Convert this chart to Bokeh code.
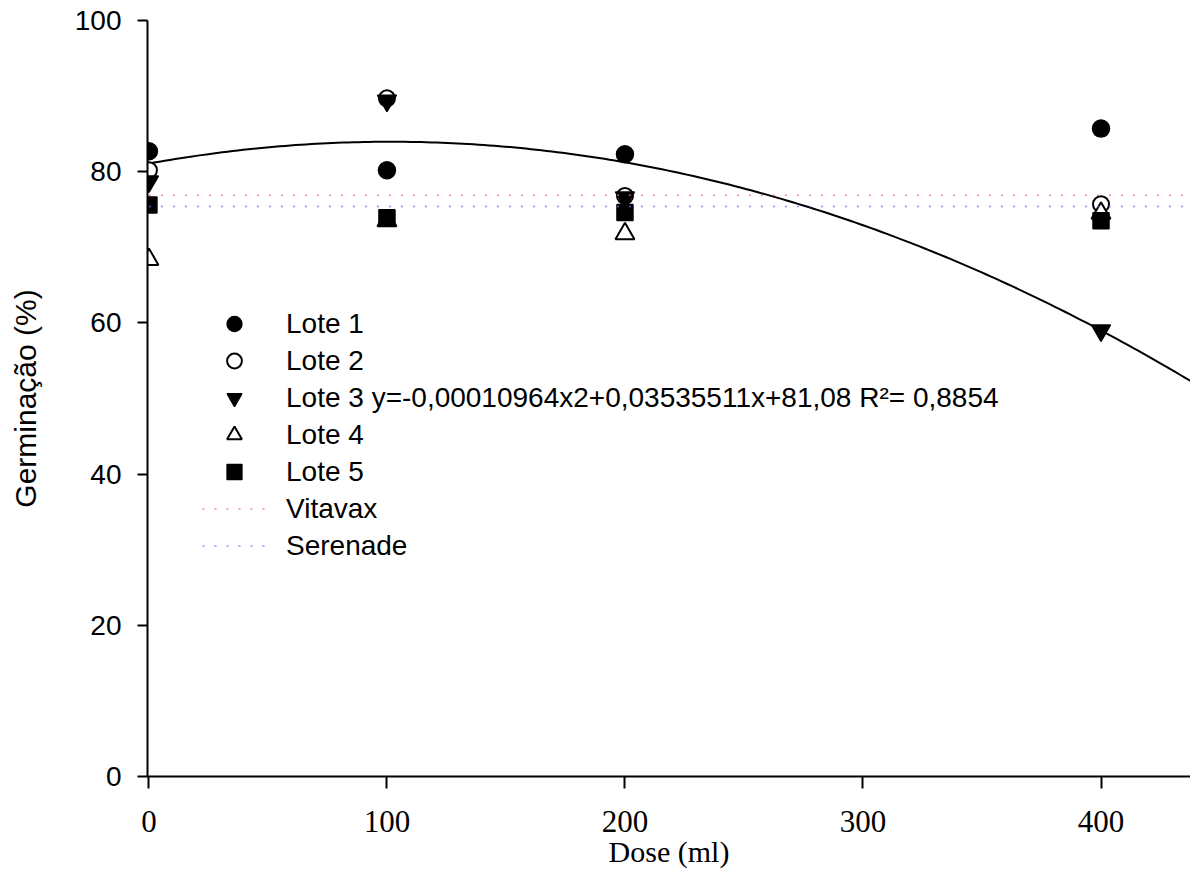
import numpy as np
from bokeh.plotting import figure
from bokeh.models import Legend, LegendItem, FixedTicker
from bokeh.embed import file_html
from bokeh.resources import INLINE

# ---- data ----
dose = [0, 100, 200, 400]
lote1 = [82.7, 80.2, 82.3, 85.7]
lote2 = [80.2, 89.7, 76.8, 75.7]
lote3 = [78.7, 89.4, 76.6, 59.0]
lote4 = [68.4, 73.5, 71.8, 74.5]
lote5 = [75.6, 73.9, 74.6, 73.5]
vitavax_level = 76.9
serenade_level = 75.4

# regression curve drawn for Lote 3 (coefficients of the drawn curve)
coef_a = -0.00028
coef_b = 0.0568
coef_c = 81.08

x_ticks = [0, 100, 200, 300, 400]
y_ticks = [0, 20, 40, 60, 80, 100]

X_START, X_END = -0.6, 437.6

p = figure(frame_width=1043, frame_height=756,
           x_range=(X_START, X_END), y_range=(0, 100),
           min_border_left=147, min_border_top=20, min_border_right=0,
           min_border_bottom=105,
           output_backend="svg", toolbar_location=None)

p.grid.visible = False
p.outline_line_color = None
p.background_fill_color = "white"
p.border_fill_color = "white"

for ax in (p.xaxis[0], p.yaxis[0]):
    ax.axis_line_width = 2
    ax.major_tick_line_width = 2
    ax.major_tick_in = 0
    ax.minor_tick_line_color = None
    ax.major_label_text_color = "black"
    ax.axis_label_text_color = "black"
    ax.axis_label_text_font_style = "normal"

p.xaxis.ticker = FixedTicker(ticks=x_ticks)
p.xaxis.major_tick_out = 12
p.xaxis.major_label_text_font = "Liberation Serif"
p.xaxis.major_label_text_font_size = "31px"
p.xaxis.major_label_standoff = 22
p.xaxis.axis_label = "Dose (ml)"
p.xaxis.axis_label_text_font = "Liberation Serif"
p.xaxis.axis_label_text_font_size = "30px"
p.xaxis.axis_label_standoff = 0

p.yaxis.ticker = FixedTicker(ticks=y_ticks)
p.yaxis.major_tick_out = 10
p.yaxis.major_label_text_font = "Liberation Sans"
p.yaxis.major_label_text_font_size = "28px"
p.yaxis.major_label_standoff = 16
p.yaxis.axis_label = "Germinação (%)"
p.yaxis.axis_label_text_font = "Liberation Sans"
p.yaxis.axis_label_text_font_size = "30px"
p.yaxis.axis_label_standoff = 30

# regression curve
xc = np.linspace(0, X_END, 200)
yc = coef_a * xc ** 2 + coef_b * xc + coef_c
curve = p.line(xc, yc, line_color="black", line_width=2)

MS = 17
r1 = p.scatter(dose, lote1, marker="circle", size=MS, fill_color="black", line_color="black", line_width=1.5)
r2 = p.scatter(dose, lote2, marker="circle", size=MS - 1, fill_color="white", line_color="black", line_width=2)
r3 = p.scatter(dose, lote3, marker="inverted_triangle", size=MS + 2, fill_color="black", line_color="black", line_width=1.5)
r4 = p.scatter(dose, lote4, marker="triangle", size=MS + 2, fill_color="white", line_color="black", line_width=2)
r5 = p.scatter(dose, lote5, marker="square", size=MS - 1, fill_color="black", line_color="black", line_width=1.5)

rv = p.line([0, X_END], [vitavax_level, vitavax_level], line_color="#f07070",
            line_width=1.5, line_dash="2 10", line_alpha=0.8)
rs = p.line([0, X_END], [serenade_level, serenade_level], line_color="#7070f0",
            line_width=1.5, line_dash="2 10", line_alpha=0.8)

items = [
    LegendItem(label="Lote 1", renderers=[r1]),
    LegendItem(label="Lote 2", renderers=[r2]),
    LegendItem(label="Lote 3 y=-0,00010964x2+0,03535511x+81,08 R\u00b2= 0,8854", renderers=[r3]),
    LegendItem(label="Lote 4", renderers=[r4]),
    LegendItem(label="Lote 5", renderers=[r5]),
    LegendItem(label="Vitavax", renderers=[rv]),
    LegendItem(label="Serenade", renderers=[rs]),
]
legend = Legend(items=items, location=(55, 212),
                label_text_font="Liberation Sans", label_text_font_size="28px",
                label_text_color="black",
                glyph_width=64, glyph_height=37, label_height=37,
                label_standoff=20, spacing=0, padding=0, margin=0,
                border_line_color=None, background_fill_alpha=0)
p.add_layout(legend)

open("out.html", "w").write(file_html(p, INLINE))
